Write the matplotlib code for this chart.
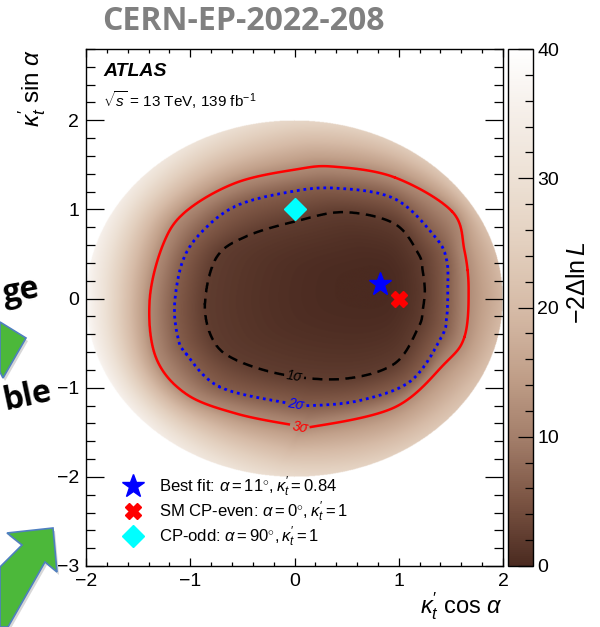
import numpy as np
import matplotlib
matplotlib.use("Agg")
import matplotlib.pyplot as plt
from matplotlib.colors import LinearSegmentedColormap
from matplotlib.ticker import MultipleLocator
from matplotlib.patches import Polygon

plt.rcParams['font.family'] = ['Liberation Sans', 'DejaVu Sans']
plt.rcParams['mathtext.fontset'] = 'custom'
plt.rcParams['mathtext.rm'] = 'Liberation Sans'
plt.rcParams['mathtext.it'] = 'Liberation Sans:italic'
plt.rcParams['mathtext.bf'] = 'Liberation Sans:bold'
plt.rcParams['axes.linewidth'] = 1.0

# ---------------- data ----------------
best_alpha_deg, best_kappa = 11.0, 0.84
sm_alpha_deg, sm_kappa = 0.0, 1.0
odd_alpha_deg, odd_kappa = 90.0, 1.0
kappa_max = 2.0

levels = [2.30, 6.18, 11.83]
level_labels = ['1σ', '2σ', '3σ']

# traced contour vertices (kappa cos a, kappa sin a), counter-clockwise
s1_x = [1.25, 1.23, 1.19, 0.96, 0.48, 0.02, -0.46, -0.75, -0.86, -0.78, -0.56, -0.08, 0.48, 0.96, 1.19, 1.23]
s1_y = [0.09, 0.31, 0.50, 0.84, 0.97, 0.87, 0.70, 0.46, -0.06, -0.47, -0.69, -0.86, -0.90, -0.73, -0.32, -0.13]

s2_x = [1.47, 1.46, 1.35, 0.96, 0.38, -0.08, -0.56, -0.88, -1.07, -1.15, -1.12, -1.04, -0.72, -0.08, 0.16, 0.64, 1.12, 1.41, 1.46]
s2_y = [0.09, 0.43, 0.69, 1.12, 1.24, 1.19, 1.04, 0.76, 0.43, -0.06, -0.43, -0.62, -0.99, -1.17, -1.20, -1.14, -0.92, -0.43, -0.21]

s3_x = [1.67, 1.63, 1.51, 0.96, 0.38, 0.02, -0.56, -1.04, -1.26, -1.39, -1.33, -1.04, -0.56, -0.01, 0.16, 0.96, 1.44, 1.63]
s3_y = [0.09, 0.54, 0.98, 1.36, 1.48, 1.45, 1.30, 0.98, 0.61, -0.02, -0.66, -1.07, -1.29, -1.42, -1.44, -1.22, -0.73, -0.43]

# -2 Delta ln L at the edge of the scanned region (kappa = 2), by polar angle
edge_alpha_deg = [0, 45, 90, 135, 180, 225, 270, 315]
edge_value = [19, 23, 27, 33, 38, 35, 28, 23]

label_pos = [(0.0, -0.86), (0.01, -1.17), (0.06, -1.43)]

cmap_vals = [0, 5, 10, 15, 20, 25, 30, 35, 40]
cmap_cols = ['#4a2a20', '#7b5443', '#a47f6b', '#c2a18b', '#d6bba7',
             '#e3d0bf', '#ede1d5', '#f5eee8', '#ffffff']

# ---------------- build surface ----------------
def to_xy(a_deg, k):
    return k * np.cos(np.radians(a_deg)), k * np.sin(np.radians(a_deg))

cx, cy = to_xy(best_alpha_deg, best_kappa)

def smooth_closed(xs, ys, n=24):
    P = np.column_stack([xs, ys])
    N = len(P)
    t = np.linspace(0, 1, n, endpoint=False)[:, None]
    segs = []
    for i in range(N):
        p0, p1, p2, p3 = P[(i - 1) % N], P[i], P[(i + 1) % N], P[(i + 2) % N]
        segs.append(0.5 * (2 * p1 + (p2 - p0) * t + (2 * p0 - 5 * p1 + 4 * p2 - p3) * t ** 2
                           + (3 * p1 - p0 - 3 * p2 + p3) * t ** 3))
    out = np.vstack(segs)
    return out[:, 0], out[:, 1]

def radial(xs, ys):
    xs, ys = smooth_closed(xs, ys)
    th = np.arctan2(ys - cy, xs - cx)
    r = np.hypot(xs - cx, ys - cy)
    o = np.argsort(th)
    return th[o], r[o]

gx = np.linspace(-2, 2, 801)
gy = np.linspace(-3, 2.8, 1161)
X, Y = np.meshgrid(gx, gy)
TH = np.arctan2(Y - cy, X - cx)
R = np.hypot(X - cx, Y - cy)
r1, r2, r3 = [np.interp(TH, *radial(x, y), period=2 * np.pi)
              for x, y in [(s1_x, s1_y), (s2_x, s2_y), (s3_x, s3_y)]]
ux, uy = np.cos(TH), np.sin(TH)
cu = cx * ux + cy * uy
t_edge = -cu + np.sqrt(cu ** 2 - (cx ** 2 + cy ** 2) + kappa_max ** 2)
ea = np.degrees(np.arctan2(cy + t_edge * uy, cx + t_edge * ux)) % 360
ev = np.interp(ea, edge_alpha_deg, edge_value, period=360)

Z = np.full_like(X, 40.0)
m = R <= r1
Z[m] = levels[0] * (R[m] / r1[m]) ** 2
m = (R > r1) & (R <= r2)
Z[m] = levels[0] + (levels[1] - levels[0]) * (R[m] - r1[m]) / (r2[m] - r1[m])
m = (R > r2) & (R <= r3)
Z[m] = levels[1] + (levels[2] - levels[1]) * (R[m] - r2[m]) / (r3[m] - r2[m])
m = (R > r3) & (R <= t_edge)
Z[m] = levels[2] + (ev[m] - levels[2]) * (R[m] - r3[m]) / (t_edge[m] - r3[m])

cmap = LinearSegmentedColormap.from_list(
    'atlas_brown', [(v / 40.0, c) for v, c in zip(cmap_vals, cmap_cols)])

# ---------------- figure ----------------
W, H = 600, 627
fig = plt.figure(figsize=(W / 100, H / 100), dpi=100)

def px(x, y):
    return x / W, 1 - y / H

ax = fig.add_axes([86 / W, 1 - 566 / H, (503 - 86) / W, (566 - 49) / H])
cax = fig.add_axes([508 / W, 1 - 566 / H, 25 / W, (566 - 49) / H])

im = ax.imshow(Z, extent=(-2, 2, -3, 2.8), origin='lower', cmap=cmap,
               vmin=0, vmax=40, aspect='auto', interpolation='bilinear', zorder=0)

styles = [dict(colors='black', linestyles=[(0, (4, 2.6))], linewidths=1.8),
          dict(colors='blue', linestyles=[(0, (1, 1.4))], linewidths=2.0),
          dict(colors='red', linestyles='solid', linewidths=1.8)]
lab_cols = ['black', 'blue', 'red']
for lvl, lab, st, pos, col in zip(levels, level_labels, styles, label_pos, lab_cols):
    cs = ax.contour(X, Y, Z, levels=[lvl], zorder=2, **st)
    txts = ax.clabel(cs, fmt={lvl: lab}, manual=[pos], inline=True,
                     inline_spacing=2, fontsize=10, colors=[col])
    for t in txts:
        t.set_fontstyle('italic')

bx, by = cx, cy
sx, sy = to_xy(sm_alpha_deg, sm_kappa)
ox, oy = to_xy(odd_alpha_deg, odd_kappa)
ax.plot([bx], [by], ls='none', marker='*', ms=17, color='blue', mec='blue', zorder=5,
        label=rf'Best fit: $\alpha = {best_alpha_deg:.0f}^{{\circ}}, \kappa_t^{{\prime}} = {best_kappa:.2f}$')
ax.plot([sx], [sy], ls='none', marker='X', ms=12, color='red', mec='red', zorder=5,
        label=rf'SM CP-even: $\alpha = {sm_alpha_deg:.0f}^{{\circ}}, \kappa_t^{{\prime}} = {sm_kappa:.0f}$')
ax.plot([ox], [oy], ls='none', marker='D', ms=11, color='cyan', mec='cyan', zorder=5,
        label=rf'CP-odd: $\alpha = {odd_alpha_deg:.0f}^{{\circ}}, \kappa_t^{{\prime}} = {odd_kappa:.0f}$')

ax.legend(loc='upper left', bbox_to_anchor=((124 - 86) / 417, (566 - 475) / 517),
          frameon=False, fontsize=12, handlelength=1.1, handletextpad=1.0,
          labelspacing=0.02, borderpad=0, borderaxespad=0, markerscale=1.0)

ax.set_xlim(-2, 2)
ax.set_ylim(-3, 2.8)
ax.xaxis.set_major_locator(MultipleLocator(1))
ax.xaxis.set_minor_locator(MultipleLocator(0.2))
ax.yaxis.set_major_locator(MultipleLocator(1))
ax.yaxis.set_minor_locator(MultipleLocator(0.2))
ax.tick_params(which='both', direction='in', top=True, right=True, width=0.9,
               labelsize=14, colors='black')
ax.tick_params(axis='x', which='major', length=6, pad=5)
ax.tick_params(axis='x', which='minor', length=3)
ax.tick_params(axis='y', which='major', length=13, pad=5)
ax.tick_params(axis='y', which='minor', length=6.5)
ax.set_xlabel(r'$\kappa_t^{\prime}\ \cos\,\alpha$', loc='right', fontsize=17, labelpad=0)
ax.set_ylabel(r'$\kappa_t^{\prime}\ \sin\,\alpha$', loc='top', fontsize=17.5, labelpad=6)

cb = fig.colorbar(im, cax=cax, ticks=[0, 10, 20, 30, 40])
cb.outline.set_linewidth(1.0)
cax.yaxis.set_minor_locator(MultipleLocator(2))
cax.tick_params(which='both', direction='in', right=True, left=False, width=0.9,
                labelsize=14, pad=3)
cax.tick_params(which='major', length=11)
cax.tick_params(which='minor', length=6)
cb.set_label(r'$-2\Delta\mathrm{ln}\,L$', fontsize=18)
cax.yaxis.set_label_coords((566 - 508) / 25, (566 - 283) / 517)

fig.text(*px(103, 72), 'ATLAS', fontweight='bold', fontstyle='italic',
         fontsize=14, va='center', ha='left')
fig.text(*px(103, 100), r'$\sqrt{s}$ = 13 TeV, 139 fb$^{-1}$', fontsize=11,
         va='center', ha='left')

# slide decorations around the plot
fig.text(*px(243, 21), 'CERN-EP-2022-208', color='#808080', fontweight='bold',
         fontsize=23, family=['Open Sans', 'DejaVu Sans'], ha='center', va='center')
fig.text(*px(0, 292), 'ge', fontweight='bold', fontsize=23, rotation=10,
         family=['Open Sans', 'DejaVu Sans'], ha='left', va='center')
fig.text(*px(0, 397), 'ble', fontweight='bold', fontsize=23, rotation=12,
         family=['Open Sans', 'DejaVu Sans'], ha='left', va='center')

def poly(pts, **kw):
    p = Polygon([px(x, y) for x, y in pts], closed=True,
                transform=fig.transFigure, **kw)
    fig.add_artist(p)

arrow1 = [(0, 322), (26, 338), (3, 378), (0, 372)]
arrow2 = [(53, 528), (7, 533), (22, 545), (0, 567), (0, 627), (8, 627), (45, 562), (57, 572)]
poly([(x + 2, y + 3) for x, y in arrow1], facecolor='#b0b0b0', edgecolor='none', alpha=0.5)
poly([(x + 2, y + 3) for x, y in arrow2], facecolor='#b0b0b0', edgecolor='none', alpha=0.5)
poly(arrow1, facecolor='#4cb83a', edgecolor='#4f7fc0', linewidth=1.2)
poly(arrow2, facecolor='#4cb83a', edgecolor='#4f7fc0', linewidth=1.2)

fig.savefig('out.png', dpi=100)
